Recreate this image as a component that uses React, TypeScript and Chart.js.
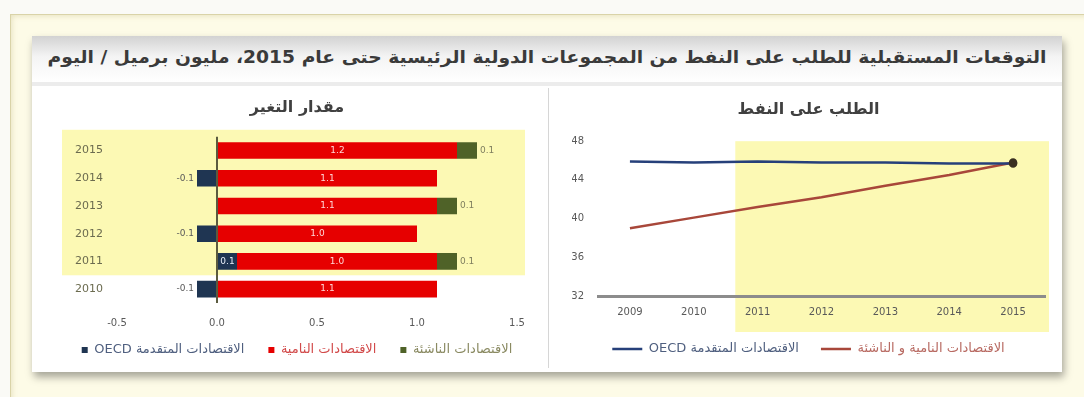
import React, { useEffect, useRef } from "react";
import { Chart, registerables } from "chart.js";

Chart.register(...registerables);

const FONT = "'DejaVu Sans', 'Noto Sans', sans-serif";

const mainTitle =
  "التوقعات المستقبلية للطلب على النفط من المجموعات الدولية الرئيسية حتى عام 2015، مليون برميل / اليوم";
const changeTitle = "مقدار التغير";
const demandTitle = "الطلب على النفط";

// Left panel: yearly change in demand by group (million b/d), top row first
const changeYears = ["2015", "2014", "2013", "2012", "2011", "2010"];
const oecdChange = [0, -0.1, 0, -0.1, 0.1, -0.1];
const developingChange = [1.2, 1.1, 1.1, 1.0, 1.0, 1.1];
const emergingChange = [0.1, 0, 0.1, 0, 0.1, 0];
const changeTicks = [-0.5, 0, 0.5, 1, 1.5];

const oecdLabel = "OECD الاقتصادات المتقدمة";
const developingLabel = "الاقتصادات النامية";
const emergingLabel = "الاقتصادات الناشئة";
const nonOecdLabel = "الاقتصادات النامية و الناشئة";

// Right panel: demand level (million b/d)
const demandYears = ["2009", "2010", "2011", "2012", "2013", "2014", "2015"];
const oecdDemand = [45.9, 45.8, 45.9, 45.8, 45.8, 45.7, 45.7];
const nonOecdDemand = [39.0, 40.1, 41.2, 42.2, 43.4, 44.5, 45.8];
const demandTicks = [32, 36, 40, 44, 48];

const NAVY = "#1f3552";
const RED = "#e60000";
const GREEN = "#4f6228";
const YELLOW = "#fcf9b4";
const LINE_NAVY = "#26407a";
const LINE_RED = "#a8473a";
const END_MARK = "#3a3020";

const changeLegendText = ["#4f5f7f", "#d24a4a", "#8a8a62"];
const demandLegendText = ["#4f5f7f", "#b86a62"];

const coloredLabels = (colors: string[]) => (chart: any) =>
  Chart.defaults.plugins.legend.labels
    .generateLabels(chart)
    .map((item: any, i: number) => ({ ...item, fontColor: colors[i] }));

// yellow highlight behind the forecast rows
const changeBandPlugin = {
  id: "changeBand",
  beforeDraw(chart: any) {
    const { ctx, chartArea, scales } = chart;
    const y = scales.y;
    const top = y.getPixelForValue(-0.75);
    const bottom = y.getPixelForValue(4.5);
    ctx.save();
    ctx.fillStyle = YELLOW;
    ctx.fillRect(chartArea.left - 55, top, chartArea.right - chartArea.left + 63, bottom - top);
    ctx.restore();
  },
};

// value labels on each bar segment
const changeLabelPlugin = {
  id: "changeLabels",
  afterDatasetsDraw(chart: any) {
    const { ctx } = chart;
    ctx.save();
    ctx.font = `9px ${FONT}`;
    ctx.textBaseline = "middle";
    chart.data.datasets.forEach((ds: any, di: number) => {
      const meta = chart.getDatasetMeta(di);
      meta.data.forEach((bar: any, i: number) => {
        const v = ds.data[i];
        if (!v) return;
        const txt = v.toFixed(1);
        const lo = Math.min(bar.x, bar.base);
        const hi = Math.max(bar.x, bar.base);
        if (di === 1) {
          ctx.fillStyle = "#ffd6d6";
          ctx.textAlign = "center";
          ctx.fillText(txt, (lo + hi) / 2, bar.y);
        } else if (di === 0) {
          if (v < 0) {
            ctx.fillStyle = "#595959";
            ctx.textAlign = "right";
            ctx.fillText(txt, lo - 3, bar.y);
          } else {
            ctx.fillStyle = "#e8eef8";
            ctx.textAlign = "center";
            ctx.fillText(txt, (lo + hi) / 2, bar.y);
          }
        } else {
          ctx.fillStyle = "#7f7f5f";
          ctx.textAlign = "left";
          ctx.fillText(txt, hi + 3, bar.y);
        }
      });
    });
    ctx.restore();
  },
};

// yellow highlight behind the forecast years
const demandBandPlugin = {
  id: "demandBand",
  beforeDraw(chart: any) {
    const { ctx, chartArea, scales } = chart;
    const left = scales.x.getPixelForValue(1.65);
    ctx.save();
    ctx.fillStyle = YELLOW;
    ctx.fillRect(left, chartArea.top, chartArea.right - left + 4, chartArea.bottom - chartArea.top + 36);
    ctx.restore();
  },
};

function ChangeChart() {
  const ref = useRef<HTMLCanvasElement>(null);
  useEffect(() => {
    const chart = new Chart(ref.current!, {
      type: "bar",
      data: {
        labels: changeYears,
        datasets: [
          { label: oecdLabel, data: oecdChange, backgroundColor: NAVY },
          { label: developingLabel, data: developingChange, backgroundColor: RED },
          { label: emergingLabel, data: emergingChange, backgroundColor: GREEN },
        ].map((d) => ({ ...d, barPercentage: 0.6, categoryPercentage: 1 })),
      },
      options: {
        indexAxis: "y",
        animation: false,
        responsive: false,
        layout: { padding: { left: 9, right: 0, top: 0, bottom: 3.5 } },
        scales: {
          x: {
            stacked: true,
            min: -0.5,
            max: 1.5,
            afterBuildTicks: (s: any) => {
              s.ticks = changeTicks.map((value) => ({ value }));
            },
            afterFit: (s: any) => {
              s.height = 16.5;
              // tick labels sit below the thin axis box; keep them unclipped
              s._computeLabelArea = () => undefined;
            },
            ticks: {
              padding: 14,
              color: "#595959",
              font: { family: FONT, size: 10 },
              callback: (v: any) => Number(v).toFixed(1),
            },
            grid: {
              drawTicks: false,
              color: (c: any) => (c.tick && c.tick.value === 0 ? "#5b5b3f" : "rgba(0,0,0,0)"),
              lineWidth: (c: any) => (c.tick && c.tick.value === 0 ? 2 : 0),
            },
            border: { display: false },
          },
          y: {
            stacked: true,
            afterFit: (s: any) => {
              s.width = 68;
            },
            ticks: { padding: 14, color: "#6b6b4f", font: { family: FONT, size: 11 } },
            grid: { display: false, drawTicks: false },
            border: { display: false },
          },
          // empty right-hand margin axis so the legend can use the full width
          yMargin: {
            type: "linear",
            position: "right",
            afterFit: (s: any) => {
              s.width = 28;
            },
            ticks: { display: false },
            grid: { display: false, drawTicks: false },
            border: { display: false },
          },
        },
        plugins: {
          title: {
            display: true,
            text: changeTitle,
            color: "#404040",
            font: { family: FONT, size: 16, weight: "bold" },
            padding: { top: 10, bottom: 19.5 },
          },
          legend: {
            position: "bottom",
            labels: {
              boxWidth: 6,
              boxHeight: 6,
              padding: 24,
              color: "#595959",
              font: { family: FONT, size: 13 },
              generateLabels: coloredLabels(changeLegendText),
            },
          },
          tooltip: { enabled: false },
        },
      },
      plugins: [changeBandPlugin, changeLabelPlugin],
    } as any);
    return () => chart.destroy();
  }, []);
  return <canvas ref={ref} width={505} height={282} />;
}

function DemandChart() {
  const ref = useRef<HTMLCanvasElement>(null);
  useEffect(() => {
    const last = demandYears.length - 1;
    const radii = demandYears.map((_, i) => (i === last ? 3 : 0));
    const lineSet = (label: string, data: number[], color: string) => ({
      label,
      data,
      borderColor: color,
      backgroundColor: color,
      borderWidth: 2.5,
      pointRadius: radii,
      pointBackgroundColor: END_MARK,
      pointBorderColor: demandYears.map((_, i) => (i === last ? END_MARK : color)),
      pointBorderWidth: 2.5,
    });
    const chart = new Chart(ref.current!, {
      type: "line",
      data: {
        labels: demandYears,
        datasets: [
          lineSet(oecdLabel, oecdDemand, LINE_NAVY),
          lineSet(nonOecdLabel, nonOecdDemand, LINE_RED),
        ],
      },
      options: {
        animation: false,
        responsive: false,
        layout: { padding: { left: 24, right: 15, top: 2, bottom: 4.5 } },
        scales: {
          x: {
            offset: true,
            afterFit: (s: any) => {
              s.height = 24.5;
            },
            ticks: { padding: 10, color: "#595959", font: { family: FONT, size: 10 } },
            grid: { display: false, drawTicks: false },
            border: { display: true, color: "#8c8c8c", width: 3 },
          },
          y: {
            min: 32,
            max: 48,
            afterBuildTicks: (s: any) => {
              s.ticks = demandTicks.map((value) => ({ value }));
            },
            afterFit: (s: any) => {
              s.width = 26;
            },
            ticks: { padding: 14, color: "#595959", font: { family: FONT, size: 10 } },
            grid: { display: false, drawTicks: false },
            border: { display: false },
          },
        },
        plugins: {
          title: {
            display: true,
            text: demandTitle,
            color: "#404040",
            font: { family: FONT, size: 16, weight: "bold" },
            padding: { top: 10, bottom: 22 },
          },
          legend: {
            position: "bottom",
            labels: {
              usePointStyle: true,
              pointStyle: "line",
              pointStyleWidth: 30,
              boxHeight: 8,
              padding: 22,
              color: "#595959",
              font: { family: FONT, size: 13 },
              generateLabels: coloredLabels(demandLegendText),
            },
          },
          tooltip: { enabled: false },
        },
      },
      plugins: [demandBandPlugin],
    } as any);
    return () => chart.destroy();
  }, []);
  return <canvas ref={ref} width={512} height={282} />;
}

export default function App() {
  return (
    <div
      style={{
        position: "fixed",
        left: 0,
        top: 0,
        width: 1084,
        height: 397,
        overflow: "hidden",
        background: "#fafaf6",
        fontFamily: FONT,
      }}
    >
      <div
        style={{
          position: "absolute",
          left: 10,
          top: 14,
          width: 1080,
          height: 390,
          background: "#fdfbe7",
          border: "1px solid #d9d3a8",
          boxShadow: "inset 0 0 6px rgba(190,180,120,0.45)",
        }}
      />
      <div
        style={{
          position: "absolute",
          left: 32,
          top: 36,
          width: 1030,
          height: 336,
          background: "#ffffff",
          boxShadow: "2px 5px 8px rgba(0,0,0,0.35)",
        }}
      >
        <div
          style={{
            position: "absolute",
            left: 0,
            top: 0,
            width: 1030,
            height: 46,
            background: "linear-gradient(#d2d2d2, #f4f4f4 45%, #ffffff)",
            borderBottom: "4px solid #ececec",
          }}
        />
        <div
          dir="rtl"
          style={{
            position: "absolute",
            left: 0,
            top: 11,
            width: 1030,
            textAlign: "center",
            fontSize: 17,
            fontWeight: "bold",
            color: "#3a3a3a",
            whiteSpace: "nowrap",
            transform: "scaleX(1.1)",
          }}
        >
          {mainTitle}
        </div>
        <div
          style={{
            position: "absolute",
            left: 516,
            top: 52,
            width: 1,
            height: 280,
            background: "#d6d6d6",
          }}
        />
      </div>
      <div style={{ position: "absolute", left: 40, top: 88 }}>
        <ChangeChart />
      </div>
      <div style={{ position: "absolute", left: 548, top: 88 }}>
        <DemandChart />
      </div>
    </div>
  );
}
